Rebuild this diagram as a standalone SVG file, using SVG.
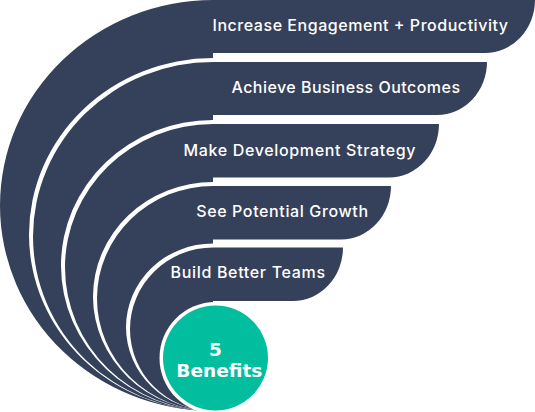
<svg xmlns="http://www.w3.org/2000/svg" width="535" height="412" viewBox="0 0 535 412">
  <style>
    .band { fill: #35415a; }
    .halo { fill: #ffffff; }
    .label { fill: #ffffff; font-family: Inter, "Open Sans", "Liberation Sans", sans-serif; font-size: 16px; font-weight: 500; }
    .center { fill: #ffffff; font-family: "DejaVu Sans", "Liberation Sans", sans-serif; font-size: 18.5px; font-weight: bold; text-anchor: middle; }
  </style>
  <rect width="535" height="412" fill="#ffffff"/>
  <g id="layer1">
    <path class="band" d="M213,0 H535 A50,53 0 0 1 485,53 H213 V411 A213,205.5 0 0 1 213,0 Z"/>
    <text class="label" x="212.5" y="31" textLength="295.5">Increase Engagement + Productivity</text>
  </g>
  <g id="layer2">
    <path class="halo" d="M213,58 H491 V119 H213 V411 A184,176.5 0 0 1 213,58 Z"/>
    <path class="band" d="M213,62 H487 A50,53 0 0 1 437,115 H213 V411 A180,174.5 0 0 1 213,62 Z"/>
    <text class="label" x="231.5" y="93" textLength="228.5">Achieve Business Outcomes</text>
  </g>
  <g id="layer3">
    <path class="halo" d="M213,120 H443 V181 H213 V411 A152,145.5 0 0 1 213,120 Z"/>
    <path class="band" d="M213,124 H439 A50,53.5 0 0 1 389,177.5 H213 V411 A148,143.5 0 0 1 213,124 Z"/>
    <text class="label" x="183.5" y="155.7" textLength="232">Make Development Strategy</text>
  </g>
  <g id="layer4">
    <path class="halo" d="M213,182 H395 V243 H213 V411 A120,114.5 0 0 1 213,182 Z"/>
    <path class="band" d="M213,186 H391 A50,53.5 0 0 1 341,239.5 H213 V411 A116,112.5 0 0 1 213,186 Z"/>
    <text class="label" x="196.2" y="216.7" textLength="171.8">See Potential Growth</text>
  </g>
  <g id="layer5">
    <path class="halo" d="M213,243.5 H347 V305 H213 V411 A87,83.75 0 0 1 213,243.5 Z"/>
    <path class="band" d="M213,247.5 H343 A50,53.5 0 0 1 293,301 H213 V411 A83,81.75 0 0 1 213,247.5 Z"/>
    <text class="label" x="170.6" y="278.3" textLength="154.4">Build Better Teams</text>
  </g>
  <g id="center">
    <circle class="halo" cx="215.5" cy="358" r="56"/>
    <circle cx="215.5" cy="358" r="52.5" fill="#03bd9f"/>
    <text class="center" x="215.5" y="355.5">5</text>
    <text class="center" x="219.3" y="376.5">Benefits</text>
  </g>
  <g id="connectors"/>
</svg>
